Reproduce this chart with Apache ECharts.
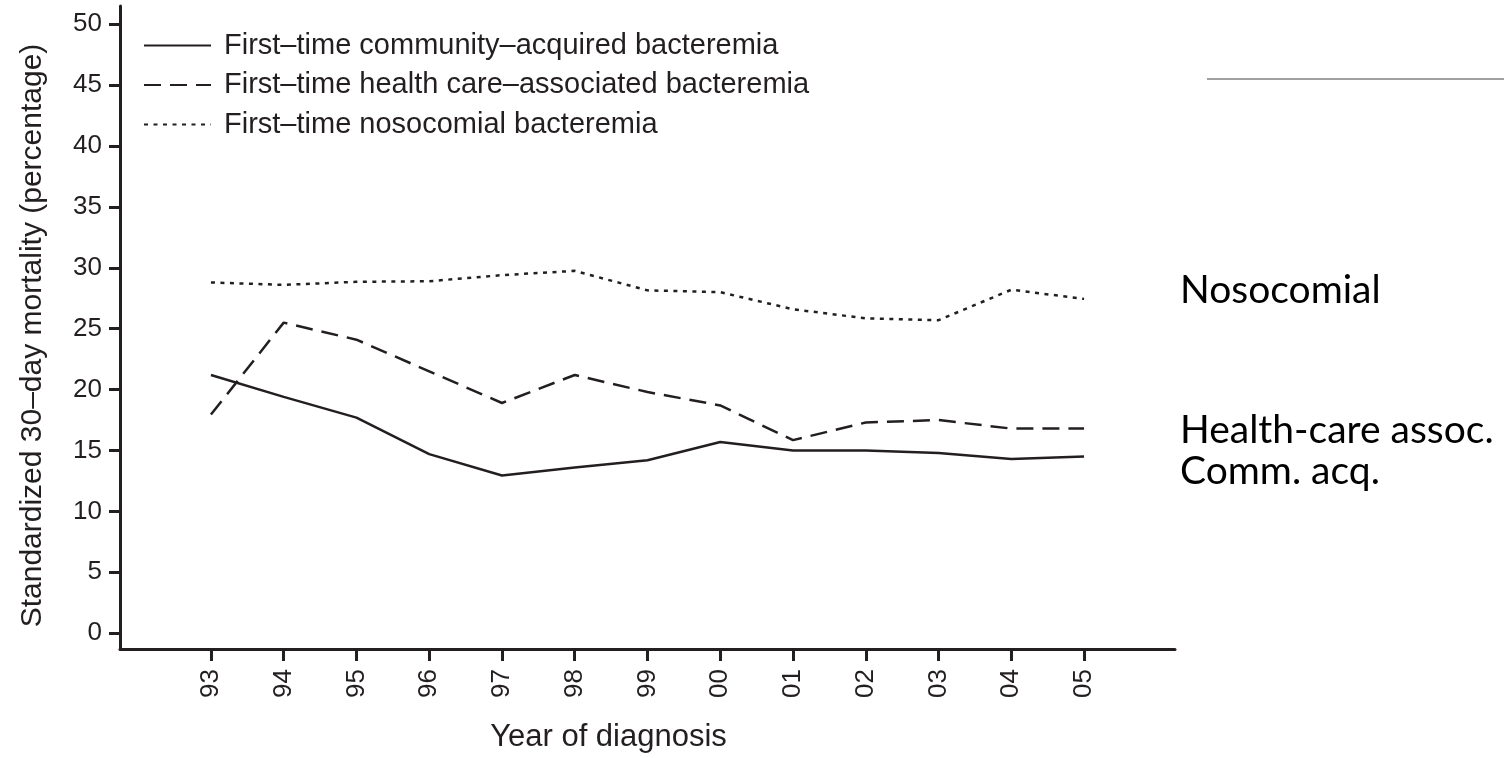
<!DOCTYPE html>
<html>
<head>
<meta charset="utf-8">
<script src="https://cdn.jsdelivr.net/npm/echarts@6/dist/echarts.min.js"></script>
<style>html,body{margin:0;padding:0;background:#fff}#c{width:1504px;height:758px}</style>
</head>
<body>
<div id="c"></div>
<script>
var yearLabels = ['93','94','95','96','97','98','99','00','01','02','03','04','05'];
var community = [21.2, 19.4, 17.7, 14.7, 12.95, 13.6, 14.2, 15.7, 15.0, 15.0, 14.8, 14.3, 14.5];
var healthcare = [17.95, 25.5, 24.1, 21.5, 18.9, 21.2, 19.8, 18.7, 15.85, 17.3, 17.5, 16.8, 16.8];
var nosocomial = [28.8, 28.6, 28.85, 28.9, 29.4, 29.75, 28.15, 28.0, 26.6, 25.85, 25.7, 28.2, 27.45];
var yTicks = [0, 5, 10, 15, 20, 25, 30, 35, 40, 45, 50];
var seriesNames = ['First\u2013time community\u2013acquired bacteremia', 'First\u2013time health care\u2013associated bacteremia', 'First\u2013time nosocomial bacteremia'];

function pairs(arr){ return arr.map(function(v,i){ return [i, v]; }); }
var ink = '#231f20';
var font = 'Liberation Sans';
var xIdx = yearLabels.map(function(_,i){return i;});
var chart = echarts.init(document.getElementById('c'));
chart.setOption({
  animation: false,
  grid: { left: 120, right: 329, top: 6, bottom: 108 },
  legend: {
    orient: 'vertical', left: 138, top: 26, itemWidth: 67, itemHeight: 14, itemGap: 10.5,
    itemStyle: { opacity: 0 },
    textStyle: { fontFamily: font, fontSize: 29, color: ink, padding: [0,0,0,8] },
    data: seriesNames
  },
  xAxis: {
    type: 'value', min: -1.25, max: 13.25,
    axisLine: { onZero: false, lineStyle: { color: ink, width: 3 } },
    axisTick: { show: true, length: 12, lineStyle: { color: ink, width: 3 }, customValues: xIdx },
    axisLabel: { rotate: 90, margin: 20, fontFamily: font, fontSize: 26, color: ink,
      customValues: xIdx,
      formatter: function(v){ return yearLabels[Math.round(v)]; } },
    splitLine: { show: false },
    name: 'Year of diagnosis', nameLocation: 'middle', nameGap: 73,
    nameTextStyle: { fontFamily: font, fontSize: 31, color: ink, padding: [0, 78, 0, 0] }
  },
  yAxis: {
    type: 'value', min: -1.3, max: 51.5,
    axisLine: { show: true, onZero: false, lineStyle: { color: ink, width: 3 } },
    axisTick: { show: true, length: 11, lineStyle: { color: ink, width: 3 }, customValues: yTicks },
    axisLabel: { margin: 18, fontFamily: font, fontSize: 26, color: ink, customValues: yTicks },
    splitLine: { show: false },
    name: 'Standardized 30\u2013day mortality (percentage)', nameLocation: 'middle', nameGap: 72,
    nameTextStyle: { fontFamily: font, fontSize: 30, color: ink, padding: [0, 16, 0, 0] }
  },
  series: [
    { name: seriesNames[0], type: 'line', symbol: 'none', data: pairs(community),
      lineStyle: { color: ink, width: 2.5, type: 'solid' }, itemStyle: { color: ink } },
    { name: seriesNames[1], type: 'line', symbol: 'none', data: pairs(healthcare),
      lineStyle: { color: ink, width: 2.5, type: [17, 9] }, itemStyle: { color: ink } },
    { name: seriesNames[2], type: 'line', symbol: 'none', data: pairs(nosocomial),
      lineStyle: { color: ink, width: 2.5, type: [4, 5.5] }, itemStyle: { color: ink } }
  ],
  graphic: [
    { type: 'line', shape: { x1: 1207, y1: 79, x2: 1504, y2: 79 }, style: { stroke: '#a0a0a0', lineWidth: 2 } },
    { type: 'text', left: 1180, top: 271, style: { text: 'Nosocomial', font: '39px Lato', fill: '#000' } },
    { type: 'text', left: 1180, top: 411, style: { text: 'Health-care assoc.', font: '39px Lato', fill: '#000' } },
    { type: 'text', left: 1180, top: 452, style: { text: 'Comm. acq.', font: '39px Lato', fill: '#000' } }
  ]
});
</script>
</body>
</html>
